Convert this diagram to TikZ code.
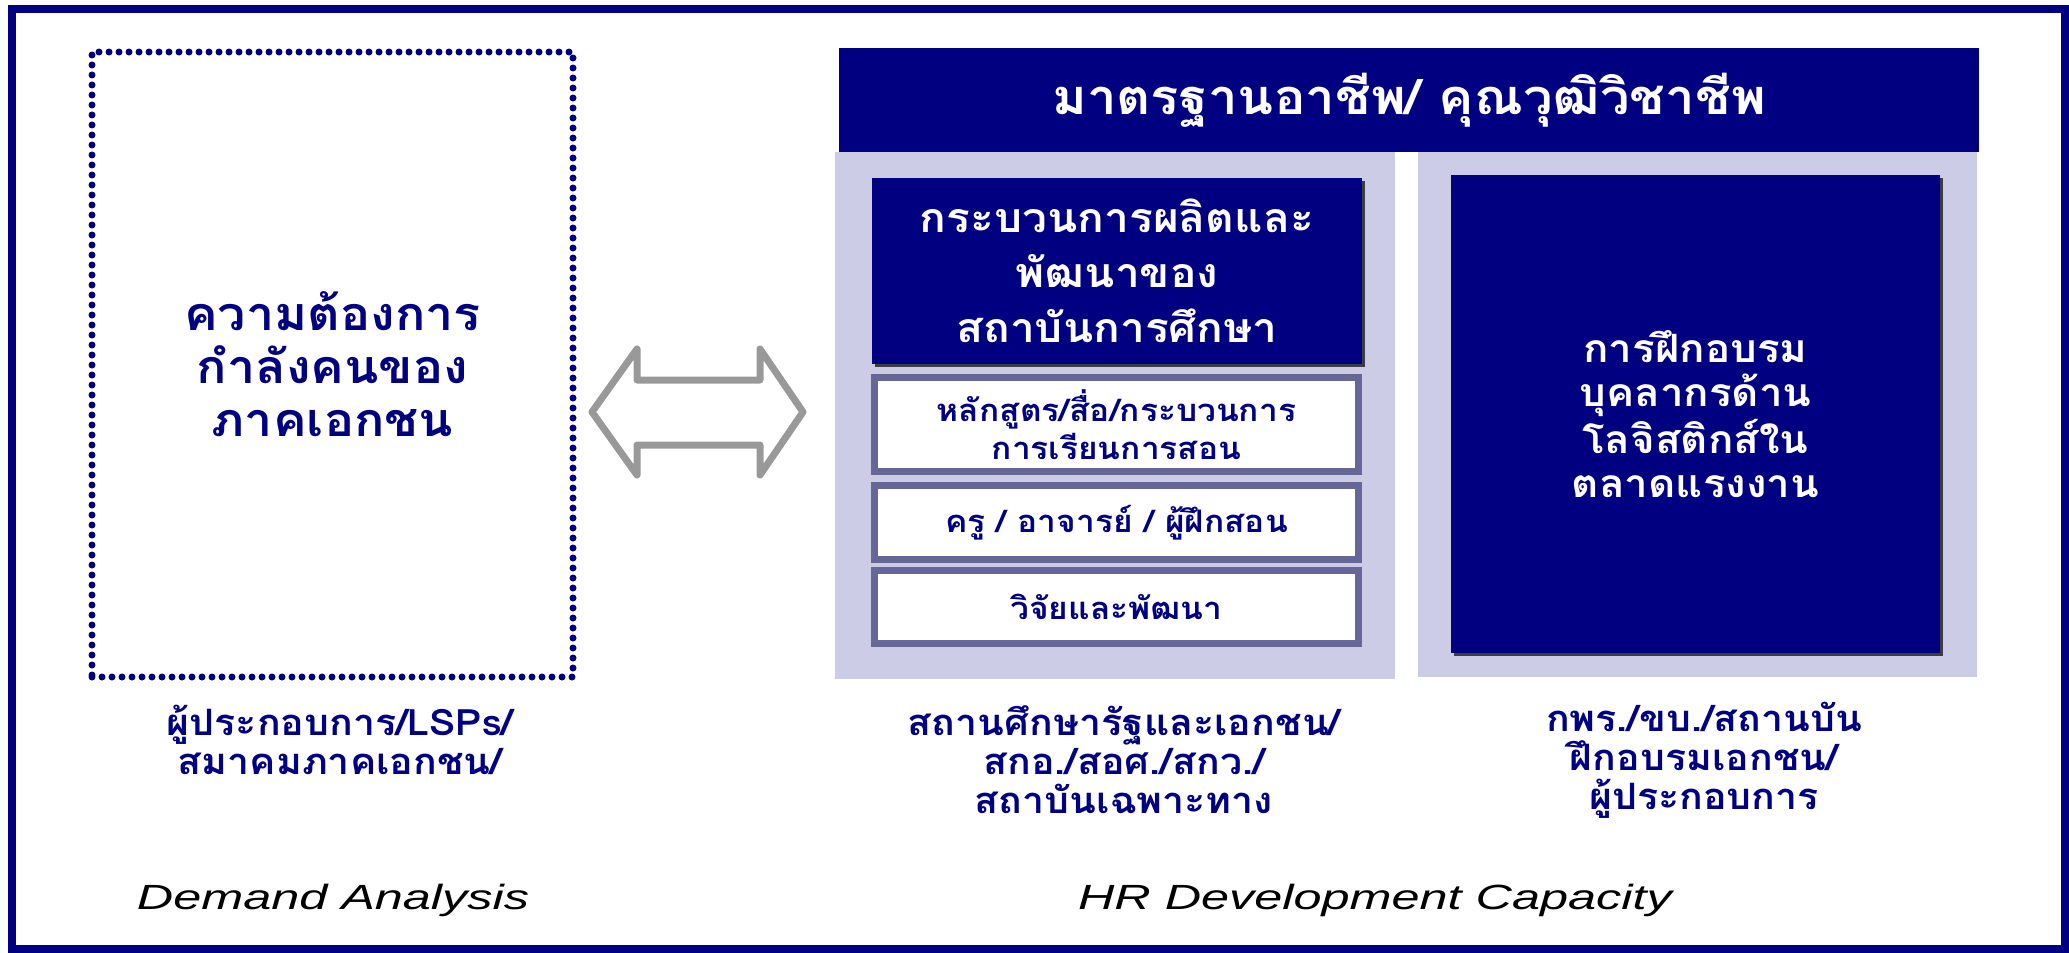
\documentclass[tikz,border=0pt]{standalone}
\usepackage{fontspec}
\setmainfont{Liberation Sans}
\newfontfamily\thai[Script=Thai,FakeStretch=1.08]{Loma}
\newfontfamily\wide[FakeStretch=1.44]{Liberation Sans}
\usetikzlibrary{shadows}
\definecolor{navy}{RGB}{0,0,128}
\definecolor{lavender}{RGB}{204,204,230}
\definecolor{slate}{RGB}{102,102,153}
\definecolor{arrowgray}{RGB}{153,153,153}
\tikzset{
  panel/.style={fill=lavender, inner sep=0pt},
  dark/.style={fill=navy, text=white, inner sep=0pt, align=center,
    drop shadow={shadow xshift=1.5pt, shadow yshift=-1.5pt, fill=black, opacity=0.7}},
  item/.style={draw=slate, line width=3.5pt, fill=white, text=navy, inner sep=0pt,
    minimum width=242pt, align=center, font=\thai\bfseries\fontsize{15.5}{19}\selectfont},
  demand/.style={draw=navy, line width=3.5pt, dash pattern=on 0pt off 5pt, line cap=round,
    text=navy, align=center, font=\thai\bfseries\fontsize{23.3}{26.5}\selectfont},
  source/.style={text=navy, align=center, font=\thai\bfseries\fontsize{18.2}{19.5}\selectfont},
  caption/.style={font=\wide\itshape\fontsize{17.5}{21}\selectfont},
  twoway/.style={draw=arrowgray, line width=3.5pt, line join=round},
}
\begin{document}
\begin{tikzpicture}[x=0.5pt, y=-0.5pt]
  \useasboundingbox (0,0) rectangle (2069,953);
  \draw[navy, line width=4pt] (12,9) rectangle (2065,949);

  \node (need) [demand, minimum width=240.5pt, minimum height=312.5pt] at (332.5,364.5)
    {ความต้องการ\\กำลังคนของ\\ภาคเอกชน};

  \coordinate (link) at (697.5,412);
  \draw[twoway, shift={(link)}] (-105.5,0) -- (-60.5,-63) -- (-60.5,-32) -- (62.5,-32)
    -- (62.5,-63) -- (105.5,0) -- (62.5,63) -- (62.5,33) -- (-60.5,33) -- (-60.5,63) -- cycle;

  \node (standard) [fill=navy, text=white, minimum width=570pt, minimum height=52pt,
    font=\thai\bfseries\fontsize{24.4}{26}\selectfont] at (1409,100)
    {มาตรฐานอาชีพ/ คุณวุฒิวิชาชีพ};

  \node (school) [panel, minimum width=280pt, minimum height=263.5pt] at (1115,415.5) {};
  \node (market) [panel, minimum width=279.5pt, minimum height=262.5pt] at (1697.5,414.5) {};

  \node (process) [dark, minimum width=245pt, minimum height=93pt,
    font=\thai\bfseries\fontsize{20.5}{27.5}\selectfont] at (1117,271)
    {กระบวนการผลิตและ\\พัฒนาของ\\สถาบันการศึกษา};
  \node (course) [item, minimum height=47pt] at (1116.5,424.5) {หลักสูตร/สื่อ/กระบวนการ\\การเรียนการสอน};
  \node (teacher) [item, minimum height=37pt] at (1116.5,522.5) {ครู / อาจารย์ / ผู้ฝึกสอน};
  \node (research) [item, minimum height=36.5pt] at (1116.5,607) {วิจัยและพัฒนา};

  \node (training) [dark, minimum width=244.5pt, minimum height=239pt,
    font=\thai\bfseries\fontsize{19.5}{22}\selectfont] at (1695.5,414)
    {การฝึกอบรม\\บุคลากรด้าน\\โลจิสติกส์ใน\\ตลาดแรงงาน};

  \node (firms) [source] at (340,740) {ผู้ประกอบการ/LSPs/\\สมาคมภาคเอกชน/};
  \node (schools) [source] at (1124,760) {สถานศึกษารัฐและเอกชน/\\สกอ./สอศ./สกว./\\สถาบันเฉพาะทาง};
  \node (trainers) [source] at (1704,760) {กพร./ขบ./สถานบัน\\ฝึกอบรมเอกชน/\\ผู้ประกอบการ};

  \node (demandcap) [caption] at (333,900) {Demand Analysis};
  \node (hrcap) [caption] at (1375,900) {HR Development Capacity};
\end{tikzpicture}
\end{document}
